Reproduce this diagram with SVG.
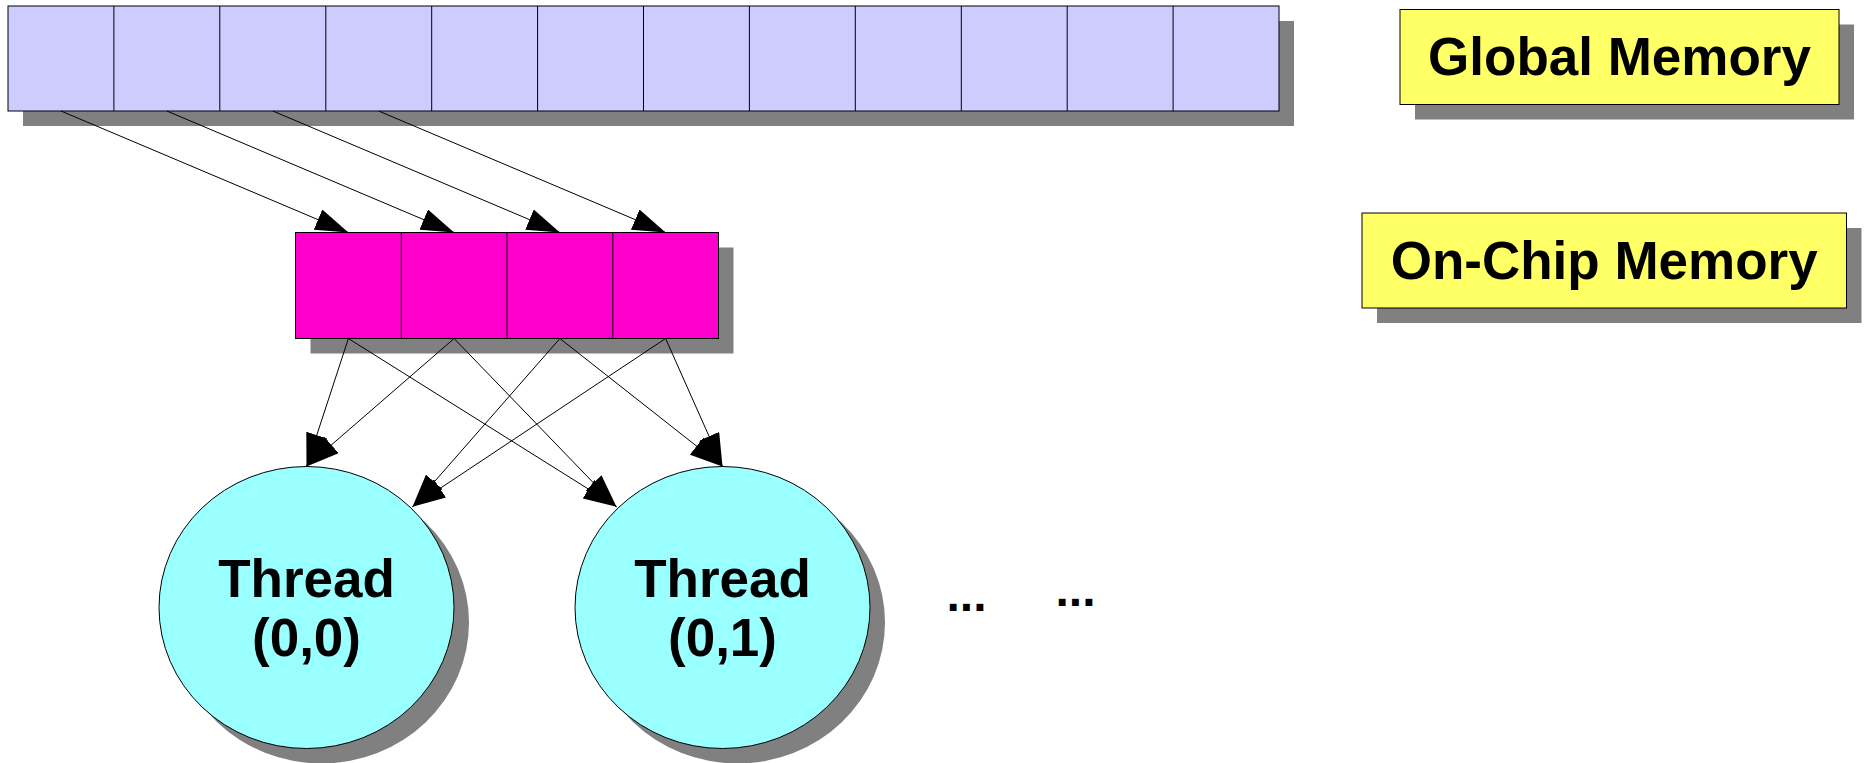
<svg xmlns="http://www.w3.org/2000/svg" width="1869" height="763" viewBox="0 0 1869 763">
  <style>
    .shadow { fill: #808080; stroke: none; }
    .global { fill: #ccccff; stroke: #000; stroke-width: 1; }
    .chip { fill: #ff00cc; stroke: #000; stroke-width: 1; }
    .thread { fill: #99ffff; stroke: #000; stroke-width: 1; }
    .label { fill: #ffff66; stroke: #000; stroke-width: 1; }
    .div { stroke: #000; stroke-width: 1; }
    .txt { font-family: "Liberation Sans", Arial, sans-serif; font-weight: bold; fill: #000; }
    .edge { stroke: #000; stroke-width: 1; fill: none; marker-end: url(#arrow); }
  </style>
  <defs>
    <marker id="arrow" markerUnits="userSpaceOnUse" viewBox="0 0 33 22" refX="33" refY="11" markerWidth="33" markerHeight="22" orient="auto">
      <path d="M0,0 L33,11 L0,22 z" fill="#000"/>
    </marker>
  </defs>

  <rect width="1869" height="763" fill="#fff"/>

  <!-- global memory array: 12 cells -->
  <g id="global-memory-array">
    <rect class="shadow" x="23" y="21" width="1271" height="105"/>
    <rect class="global" x="8" y="6" width="1271" height="105"/>
    <g class="div">
      <line x1="113.9" y1="6" x2="113.9" y2="111"/>
      <line x1="219.8" y1="6" x2="219.8" y2="111"/>
      <line x1="325.8" y1="6" x2="325.8" y2="111"/>
      <line x1="431.7" y1="6" x2="431.7" y2="111"/>
      <line x1="537.6" y1="6" x2="537.6" y2="111"/>
      <line x1="643.5" y1="6" x2="643.5" y2="111"/>
      <line x1="749.4" y1="6" x2="749.4" y2="111"/>
      <line x1="855.3" y1="6" x2="855.3" y2="111"/>
      <line x1="961.3" y1="6" x2="961.3" y2="111"/>
      <line x1="1067.2" y1="6" x2="1067.2" y2="111"/>
      <line x1="1173.1" y1="6" x2="1173.1" y2="111"/>
    </g>
  </g>

  <!-- on-chip memory array: 4 cells -->
  <g id="on-chip-array">
    <rect class="shadow" x="310.5" y="247.5" width="423" height="106"/>
    <rect class="chip" x="295.5" y="232.5" width="423" height="106"/>
    <g class="div">
      <line x1="401.3" y1="232.5" x2="401.3" y2="338.5"/>
      <line x1="507" y1="232.5" x2="507" y2="338.5"/>
      <line x1="612.8" y1="232.5" x2="612.8" y2="338.5"/>
    </g>
  </g>

  <!-- legend labels -->
  <g id="label-global">
    <rect class="shadow" x="1415" y="24.5" width="439" height="95"/>
    <rect class="label" x="1400" y="9.5" width="439" height="95"/>
    <text class="txt" x="1619.5" y="75" font-size="53" text-anchor="middle">Global Memory</text>
  </g>
  <g id="label-on-chip">
    <rect class="shadow" x="1377" y="228" width="484.5" height="95"/>
    <rect class="label" x="1362" y="213" width="484.5" height="95"/>
    <text class="txt" x="1604.2" y="278.5" font-size="53" text-anchor="middle">On-Chip Memory</text>
  </g>

  <!-- threads -->
  <g id="thread-0-0">
    <ellipse class="shadow" cx="321.5" cy="622.5" rx="147.5" ry="141"/>
    <ellipse class="thread" cx="306.5" cy="607.5" rx="147.5" ry="141"/>
    <text class="txt" x="306.5" y="597" font-size="53" text-anchor="middle">Thread</text>
    <text class="txt" x="306.5" y="656" font-size="53" text-anchor="middle">(0,0)</text>
  </g>
  <g id="thread-0-1">
    <ellipse class="shadow" cx="737.5" cy="622.5" rx="147.5" ry="141"/>
    <ellipse class="thread" cx="722.5" cy="607.5" rx="147.5" ry="141"/>
    <text class="txt" x="722.5" y="597" font-size="53" text-anchor="middle">Thread</text>
    <text class="txt" x="722.5" y="656" font-size="53" text-anchor="middle">(0,1)</text>
  </g>

  <g id="more-threads">
    <text class="txt" x="946.5" y="611" font-size="48">...</text>
    <text class="txt" x="1055.5" y="606" font-size="48">...</text>
  </g>

  <!-- connectors -->
  <g id="connectors">
    <line class="edge" x1="61" y1="111" x2="348.4" y2="232.5"/>
    <line class="edge" x1="166.9" y1="111" x2="454.1" y2="232.5"/>
    <line class="edge" x1="272.8" y1="111" x2="559.9" y2="232.5"/>
    <line class="edge" x1="378.7" y1="111" x2="665.6" y2="232.5"/>

    <line class="edge" x1="348.4" y1="338.5" x2="306.5" y2="466.5"/>
    <line class="edge" x1="348.4" y1="338.5" x2="616.5" y2="506.7"/>
    <line class="edge" x1="454.1" y1="338.5" x2="306.5" y2="466.5"/>
    <line class="edge" x1="454.1" y1="338.5" x2="616.5" y2="506.7"/>
    <line class="edge" x1="559.9" y1="338.5" x2="412.5" y2="506.7"/>
    <line class="edge" x1="559.9" y1="338.5" x2="722.5" y2="466.5"/>
    <line class="edge" x1="665.6" y1="338.5" x2="412.5" y2="506.7"/>
    <line class="edge" x1="665.6" y1="338.5" x2="722.5" y2="466.5"/>
  </g>
</svg>
